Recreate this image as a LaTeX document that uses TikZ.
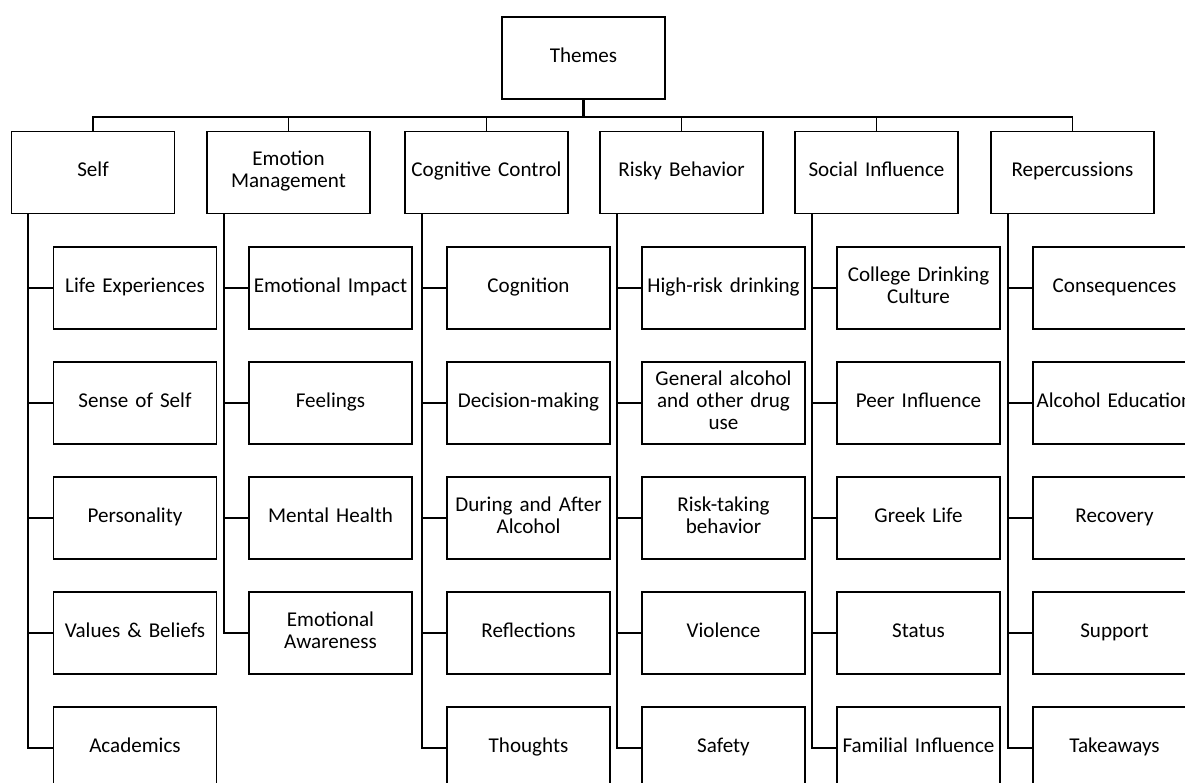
\documentclass[tikz,border=0pt]{standalone}
\usepackage{fontspec}
\setmainfont{Carlito}
\usetikzlibrary{calc}

\tikzset{
  box/.style={draw, line width=1.1pt, minimum width=3.26cm, minimum height=1.64cm,
    text width=3.2cm, inner sep=0.03cm, align=center,
    font=\fontsize{12}{12.5}\selectfont,
    execute at begin node=\strut, execute at end node=\strut},
  link/.style={line width=0.7pt},
  trunk/.style={line width=1.1pt},
}

\begin{document}
\begin{tikzpicture}[x=0.02cm,y=-0.02cm]
    \useasboundingbox (0,0) rectangle (1185,783);
    \clip (0,0) rectangle (1185,783);

    %top
    \node[box] (themes) at (583.5,58) {Themes};
    \draw[line width=2pt] (themes.south) -- ++(0,17.5);

    %themes
    \foreach \n/\x/\t in {self/93/Self, emo/288.5/{Emotion\\Management}, cog/486.5/Cognitive Control, risk/681.5/Risky Behavior, soc/876.5/Social Influence, rep/1072.5/Repercussions}
    {
        \node[box] (\n) at (\x,172.5) {\t};
        \draw[trunk] (themes.south) -- ++(0,17.5) -| (\n.north);
    }

    %subthemes
    \foreach \t [count=\i] in {Life Experiences, Sense of Self, Personality, Values \& Beliefs, Academics}
    {
        \node[box] (self-\i) at (135,173+115*\i) {\t};
        \draw[link] ($(self.south west)+(17.5,0)$) |- (self-\i.west);
    }
    \draw[trunk] ($(self.south west)+(17.5,0)$) |- (self-5.west);
    \foreach \t [count=\i] in {Emotional Impact, Feelings, Mental Health, {Emotional\\Awareness}}
    {
        \node[box] (emo-\i) at (330.5,173+115*\i) {\t};
        \draw[link] ($(emo.south west)+(17.5,0)$) |- (emo-\i.west);
    }
    \draw[trunk] ($(emo.south west)+(17.5,0)$) |- (emo-4.west);
    \foreach \t [count=\i] in {Cognition, Decision-making, {During and After\\Alcohol}, Reflections, Thoughts}
    {
        \node[box] (cog-\i) at (528.5,173+115*\i) {\t};
        \draw[link] ($(cog.south west)+(17.5,0)$) |- (cog-\i.west);
    }
    \draw[trunk] ($(cog.south west)+(17.5,0)$) |- (cog-5.west);
    \foreach \t [count=\i] in {High-risk drinking, {General alcohol\\and other drug\\use}, {Risk-taking\\behavior}, Violence, Safety}
    {
        \node[box] (risk-\i) at (723.5,173+115*\i) {\t};
        \draw[link] ($(risk.south west)+(17.5,0)$) |- (risk-\i.west);
    }
    \draw[trunk] ($(risk.south west)+(17.5,0)$) |- (risk-5.west);
    \foreach \t [count=\i] in {{College Drinking\\Culture}, Peer Influence, Greek Life, Status, Familial Influence}
    {
        \node[box] (soc-\i) at (918.5,173+115*\i) {\t};
        \draw[link] ($(soc.south west)+(17.5,0)$) |- (soc-\i.west);
    }
    \draw[trunk] ($(soc.south west)+(17.5,0)$) |- (soc-5.west);
    \foreach \t [count=\i] in {Consequences, Alcohol Education, Recovery, Support, Takeaways}
    {
        \node[box] (rep-\i) at (1114.5,173+115*\i) {\t};
        \draw[link] ($(rep.south west)+(17.5,0)$) |- (rep-\i.west);
    }
    \draw[trunk] ($(rep.south west)+(17.5,0)$) |- (rep-5.west);
\end{tikzpicture}
\end{document}
